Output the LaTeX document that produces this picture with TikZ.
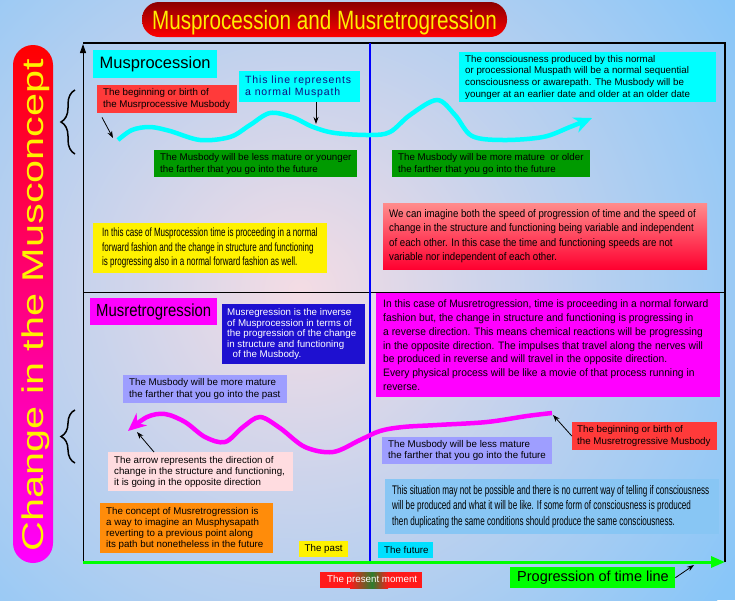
\documentclass[tikz,border=0pt]{standalone}
\usepackage{graphicx}
\usepackage{fontspec}
\setmainfont{Liberation Sans}
\newfontfamily\narTitle[FakeStretch=0.78]{Liberation Sans}
\newfontfamily\narBig[FakeStretch=0.85]{Liberation Sans}
\newfontfamily\narY[FakeStretch=0.67]{Liberation Sans}
\newfontfamily\narS[FakeStretch=0.65]{Liberation Sans}
\newfontfamily\narR[FakeStretch=0.88]{Liberation Sans}
\newfontfamily\narM[FakeStretch=0.95]{Liberation Sans}
\newfontfamily\spacedfont[LetterSpace=8]{Liberation Sans}
\usetikzlibrary{arrows.meta,decorations.pathreplacing,calc}

\definecolor{bgblue}{HTML}{88C6F8}
\definecolor{bgpink}{HTML}{F4DCE4}
\definecolor{titlered}{HTML}{8B0000}
\definecolor{titlebot}{HTML}{FF0000}
\definecolor{titleyellow}{HTML}{FFEE00}
\definecolor{cyanbox}{HTML}{00FFFF}
\definecolor{boxred}{HTML}{FF3A3A}
\definecolor{boxgreen}{HTML}{009A00}
\definecolor{speedtop}{HTML}{FF8C8C}
\definecolor{speedbot}{HTML}{FF0030}
\definecolor{magbox}{HTML}{FF00FF}
\definecolor{bluebox}{HTML}{1E10D0}
\definecolor{lavbox}{HTML}{9E9EFF}
\definecolor{pinkbox}{HTML}{FFDCE0}
\definecolor{orangebox}{HTML}{FF8C0A}
\definecolor{sitblue}{HTML}{88C6F4}
\definecolor{futcyan}{HTML}{00E0FF}
\definecolor{brightgreen}{HTML}{00FF00}
\definecolor{navytext}{HTML}{101080}
\definecolor{presentred}{HTML}{FF1A1A}
\definecolor{presentgreen}{HTML}{2E7D2E}

\tikzset{
  txt/.style={anchor=west, align=left, inner sep=0pt, font=\fontsize{9.75}{11.6}\selectfont},
  boxnode/.style={anchor=north west, inner sep=0pt, draw=none},
  thinarrow/.style={-{Stealth[length=7pt,width=5pt]}, line width=0.8pt, black},
  bracestyle/.style={decorate, decoration={brace, amplitude=14pt}, line width=1.5pt, black},
}

\newcommand\tbox[8]{%
  \pgfmathsetmacro\tbw{#4-#2}\pgfmathsetmacro\tbh{#5-#3}%
  \node[boxnode,#6,minimum width=\tbw pt,minimum height=\tbh pt] (#1) at (#2,#3) {};%
  \node[txt,#7] (#1-t) at ([xshift=6pt]#1.west) {#8};}
\newcommand\cbox[8]{%
  \pgfmathsetmacro\tbw{#4-#2}\pgfmathsetmacro\tbh{#5-#3}%
  \node[boxnode,#6,minimum width=\tbw pt,minimum height=\tbh pt] (#1) at (#2,#3) {};%
  \node[txt,anchor=center,#7] (#1-t) at (#1.center) {#8};}

\begin{document}
\begin{tikzpicture}[x=1pt,y=-1pt]
\useasboundingbox (0,0) rectangle (735,600);
\begin{scope}
  \clip (0,0) rectangle (735,600);
  \fill[bgblue] (0,0) rectangle (735,600);
  \shade[inner color=bgpink, outer color=bgblue] (300,290) circle (520);
\end{scope}

% title
\node[rounded corners=17pt, top color=titlered, bottom color=titlebot, minimum width=365pt, minimum height=35pt, inner sep=0pt] (title) at (324.5,19.5) {};
\node[text=titleyellow, font=\narTitle\fontsize{26.5}{30}\selectfont, inner sep=0pt, anchor=base] (titletext) at (324.5,29) {Musprocession and Musretrogression};

% left label
\shade[top color=red, bottom color=magbox, rounded corners=20pt] (13,45) rectangle (53,563);
\node[rotate=90, text=yellow, font=\fontsize{30}{34}\selectfont, inner sep=0pt, anchor=base] (ylabel) at (43,305) {\scalebox{1.38}[1]{Change in the Musconcept}};

% braces
\draw[bracestyle] (75,154) -- (75,90);
\draw[bracestyle] (75,463) -- (75,410);

% frame
\coordinate (O) at (83,562);
\coordinate (Ytop) at (83,44);
\coordinate (TL) at (83,43);
\coordinate (TR) at (725,43);
\coordinate (BR) at (725,562);
\coordinate (ML) at (83,292);
\coordinate (MR) at (725,292);
\coordinate (Mt) at (370,43);
\coordinate (Mb) at (370,562);
\draw[line width=1.2pt] (TL) -- (TR) -- (BR);
\draw[line width=1pt] (ML) -- (MR);
\draw[line width=1pt, -{Triangle[length=9pt,width=6pt]}] (O) -- (Ytop);
\draw[line width=2.5pt, blue] (Mt) -- (Mb);
\draw[line width=3pt, brightgreen, -{Triangle[length=14pt,width=11pt]}] (O) -- (BR);

% curves
\coordinate (cyS) at (118,140);
\coordinate (cyA) at (316,124);
\draw[line width=4.5pt, cyanbox, -{Stealth[length=18pt,width=16pt]}] plot[smooth, tension=0.55] coordinates {
 (118,140) (132,130) (150,127) (170,131) (200,140) (230,137) (250,125) (270,113) (292,117) (313,127) (335,133) (370,135) (390,132) (410,115) (437,100) (455,115) (472,136) (503,140) (543,137) (570,127) (592,118)};
\coordinate (mgS) at (552,413);
\coordinate (mgE) at (128,431);
\draw[line width=4.5pt, magbox, -{Stealth[length=18pt,width=16pt]}] plot[smooth, tension=0.55] coordinates {
 (552,413) (527,416) (487,422) (437,425) (403,427) (380,431) (360,440) (333,452) (305,447) (280,428) (260,417) (243,427) (225,442) (205,437) (185,422) (165,414) (147,417) (128,431)};
\coordinate (mgA) at (137,432);

% upper left
\cbox{mus}{93}{50}{217}{78}{fill=cyanbox}{font=\fontsize{16.5}{19}\selectfont}{Musprocession}
\tbox{birth1}{97}{85}{237}{113}{fill=boxred}{}{The beginning or birth of\\the Musrprocessive Musbody}
\tbox{linerep}{239}{71}{360}{102}{fill=cyanbox}{text=navytext, font=\spacedfont\fontsize{10.5}{12.5}\selectfont}{This line represents\\a normal Muspath}
\tbox{less1}{154}{150}{357}{177}{fill=boxgreen}{}{The Musbody will be less mature or younger\\the farther that you go into the future}
\tbox{ycase}{93}{223}{327}{273}{fill=yellow}{xshift=3pt, font=\narY\fontsize{12}{14.5}\selectfont}{In this case of Musprocession time is proceeding in a normal\\forward fashion and the change in structure and functioning\\is progressing also in a normal forward fashion as well.}

% upper right
\tbox{cons}{459}{52}{716}{102}{fill=cyanbox}{font=\fontsize{9.75}{11.7}\selectfont}{The consciousness produced by this normal\\or processional Muspath will be a normal sequential\\consciousness or awarepath. The Musbody will be\\younger at an earlier date and older at an older date}
\tbox{more1}{392}{150}{590}{177}{fill=boxgreen}{}{The Musbody will be more mature\ \ or older\\the farther that you go into the future}
\tbox{speed}{383}{203}{707}{269}{top color=speedtop, bottom color=speedbot}{font=\narR\fontsize{11}{14.5}\selectfont}{We can imagine both the speed of progression of time and the speed of\\change in the structure and functioning being variable and independent\\of each other. In this case the time and functioning speeds are not\\variable nor independent of each other.}

% lower left
\cbox{musret}{90}{298}{217}{325}{fill=magbox}{font=\narBig\fontsize{17.5}{20}\selectfont}{Musretrogression}
\tbox{inverse}{222}{304}{365}{364}{fill=bluebox}{xshift=-1pt, text=white, font=\fontsize{9.75}{10.4}\selectfont}{Musregression is the inverse\\of Musprocession in terms of\\the progression of the change\\in structure and functioning\\\ \ of the Musbody.}
\tbox{morepast}{123}{375}{287}{403}{fill=lavbox}{}{The Musbody will be more mature\\the farther that you go into the past}
\tbox{arrowrep}{108}{452}{293}{491}{fill=pinkbox}{font=\fontsize{9.75}{10.9}\selectfont}{The arrow represents the direction of\\change in the structure and functioning,\\it is going in the opposite direction}
\tbox{concept}{100}{503}{273}{553}{fill=orangebox}{font=\fontsize{9.75}{11.1}\selectfont}{The concept of Musretrogression is\\a way to imagine an Musphysapath\\reverting to a previous point along\\its path but nonetheless in the future}
\cbox{past}{299}{541}{348}{557}{fill=yellow}{}{The past}

% lower right
\tbox{retcase}{376}{293}{720}{397}{fill=magbox}{xshift=1pt, font=\narM\fontsize{10.8}{13.9}\selectfont}{In this case of Musretrogression, time is proceeding in a normal forward\\fashion but, the change in structure and functioning is progressing in\\a reverse direction. This means chemical reactions will be progressing\\in the opposite direction. The impulses that travel along the nerves will\\be produced in reverse and will travel in the opposite direction.\\Every physical process will be like a movie of that process running in\\reverse.}
\tbox{lessfut}{382}{437}{552}{464}{fill=lavbox}{font=\fontsize{9.75}{10.9}\selectfont}{The Musbody will be less mature\\the farther that you go into the future}
\tbox{birth2}{572}{422}{717}{450}{fill=boxred}{xshift=-1pt}{The beginning or birth of\\the Musretrogressive Musbody}
\tbox{situation}{385}{479}{719}{534}{fill=sitblue}{xshift=1pt, font=\narS\fontsize{12.5}{15.8}\selectfont}{This situation may not be possible and there is no current way of telling if consciousness\\will be produced and what it will be like. If some form of consciousness is produced\\then duplicating the same conditions should produce the same consciousness.}
\tbox{future}{378}{542}{433}{558}{fill=futcyan}{}{The future}

% bottom labels
\node[boxnode, fill=presentred, minimum width=102pt, minimum height=16pt] (present) at (320,572) {};
\shade[left color=presentred, right color=presentgreen] (350,572) rectangle (372,588);
\shade[left color=presentgreen, right color=presentred] (372,572) rectangle (388,588);
\node[txt, text=white] (present-t) at ([xshift=7pt]present.west) {The present moment};
\tbox{progress}{510}{567}{675}{588}{fill=brightgreen}{xshift=1pt, font=\fontsize{14.5}{17}\selectfont}{Progression of time line}

% thin arrows
\coordinate (cyB) at (113,138);
\draw[thinarrow] ($(birth1.south west)+(5,4)$) -- (cyB);
\draw[thinarrow] (linerep.south -| cyA) -- (cyA);
\draw[thinarrow] ($(arrowrep.north west)+(46,0)$) -- (mgA);
\coordinate (mgB) at (553,415);
\draw[thinarrow] (birth2.west) -- (mgB);
\coordinate (axB) at (694,565);
\draw[thinarrow] (progress.east) -- (axB);
\end{tikzpicture}
\end{document}
